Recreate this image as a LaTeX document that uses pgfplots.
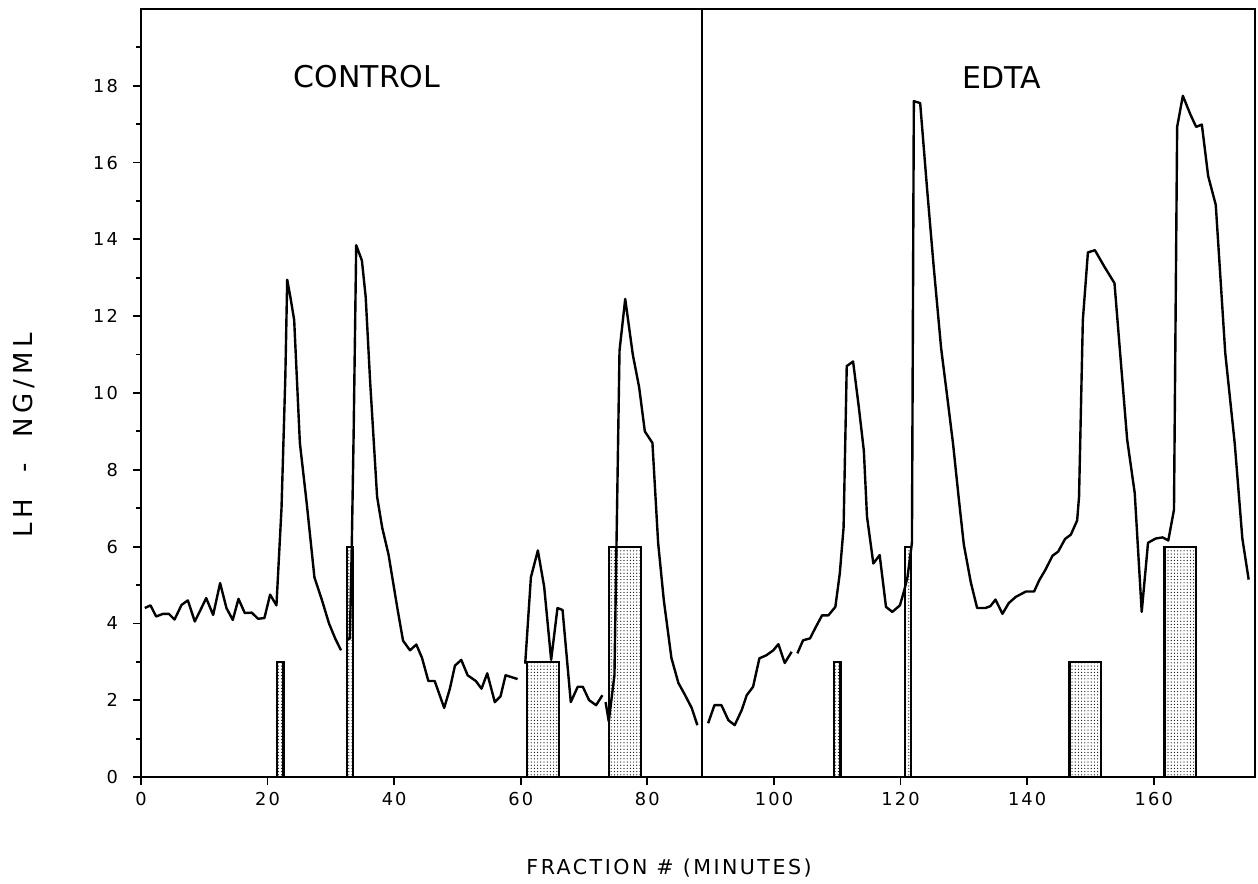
\documentclass[border=0pt]{standalone}
\usepackage{fontspec}
\setmainfont{DejaVu Sans}
\usepackage{pgfplots}
\pgfplotsset{compat=1.18}
\usetikzlibrary{patterns.meta}

\begin{document}
\begin{tikzpicture}
\begin{axis}[
  scale only axis,
  width=557pt, height=384pt,
  xmin=0, xmax=176, ymin=0, ymax=20,
  xtick={0,20,...,160},
  ytick={0,2,...,18},
  minor ytick={1,3,...,19},
  tick align=outside,
  tick pos=left,
  major tick length=4pt, minor tick length=2.5pt,
  axis line style={line width=1pt},
  every tick/.style={black, line width=0.9pt},
  tick label style={font={\fontsize{8.9}{10}\selectfont\addfontfeatures{LetterSpace=12}}},
  yticklabel style={xshift=-4pt},
  /pgf/number format/assume math mode=true,
  xlabel={FRACTION \# (MINUTES)},
  ylabel={LH~~-~~NG/ML},
  xlabel style={at={(axis description cs:0.474,0)}, anchor=center, yshift=-45.4pt,
    font={\fontsize{10.3}{12}\selectfont\addfontfeatures{LetterSpace=12}}},
  ylabel style={at={(axis description cs:-0.105,0.445)}, anchor=center,
    font={\fontsize{13}{15}\selectfont\addfontfeatures{LetterSpace=18}}},
  clip=false,
]
% stimulus bars
\addplot[draw=black, line width=1.1pt, pattern={Dots[distance=1.6pt,radius=0.3pt]}] coordinates {(21.5,0) (21.5,3) (22.5,3) (22.5,0)} -- cycle;
\addplot[draw=black, line width=1.1pt, pattern={Dots[distance=1.6pt,radius=0.3pt]}] coordinates {(32.5,0) (32.5,6) (33.5,6) (33.5,0)} -- cycle;
\addplot[draw=black, line width=1.1pt, pattern={Dots[distance=1.6pt,radius=0.3pt]}] coordinates {(61,0) (61,3) (66,3) (66,0)} -- cycle;
\addplot[draw=black, line width=1.1pt, pattern={Dots[distance=1.6pt,radius=0.3pt]}] coordinates {(74,0) (74,6) (79,6) (79,0)} -- cycle;
\addplot[draw=black, line width=1.1pt, pattern={Dots[distance=1.6pt,radius=0.3pt]}] coordinates {(109.5,0) (109.5,3) (110.5,3) (110.5,0)} -- cycle;
\addplot[draw=black, line width=1.1pt, pattern={Dots[distance=1.6pt,radius=0.3pt]}] coordinates {(120.7,0) (120.7,6) (121.7,6) (121.7,0)} -- cycle;
\addplot[draw=black, line width=1.1pt, pattern={Dots[distance=1.6pt,radius=0.3pt]}] coordinates {(146.7,0) (146.7,3) (151.7,3) (151.7,0)} -- cycle;
\addplot[draw=black, line width=1.1pt, pattern={Dots[distance=1.6pt,radius=0.3pt]}] coordinates {(161.7,0) (161.7,6) (166.7,6) (166.7,0)} -- cycle;
% divider
\addplot[black, line width=1pt] coordinates {(88.7,0) (88.7,20)};
% LH profile
\addplot[black, line width=1.2pt, line join=round, unbounded coords=jump] coordinates {
(0.6,4.4) (1.5,4.47) (2.4,4.18) (3.5,4.25) (4.4,4.25) (5.3,4.1) (6.4,4.48) (7.4,4.6)
(8.5,4.05) (9.4,4.35) (10.3,4.66) (11.4,4.22) (12.5,5.05) (13.5,4.4) (14.5,4.09)
(15.4,4.64) (16.4,4.27) (17.5,4.28) (18.5,4.12) (19.5,4.14) (20.4,4.75) (21.4,4.47)
(22.2,7.0) (22.8,10.4) (23.1,12.95) (23.6,12.5) (24.2,11.9) (25.1,8.7) (26.2,7.1)
(27.4,5.2) (28.6,4.6) (29.7,4.0) (30.7,3.6) (31.6,3.3)
(32,nan)
(32.5,3.6) (33.0,3.6) (33.3,6.0) (33.6,9.0) (34.0,13.85) (34.9,13.45) (35.5,12.5)
(36.2,10.3) (37.3,7.3) (38.1,6.5) (39.1,5.8) (40.5,4.4) (41.4,3.55) (42.5,3.3)
(43.5,3.45) (44.4,3.1) (45.4,2.5) (46.4,2.5) (47.9,1.8) (48.8,2.3) (49.6,2.9)
(50.6,3.05) (51.6,2.65) (52.9,2.5) (53.8,2.3) (54.7,2.7) (55.9,1.95) (56.8,2.1)
(57.6,2.65) (59.5,2.55)
(60,nan)
(60.7,2.95) (61.6,5.2) (62.7,5.9) (63.7,4.95) (64.8,3.05) (65.8,4.4) (66.6,4.35)
(67.9,1.95) (69.0,2.35) (69.8,2.35) (70.8,2.0) (71.9,1.87) (72.9,2.13)
(73.1,nan)
(73.4,1.95) (73.9,1.45) (74.8,2.65) (75.6,11.1) (76.5,12.45) (77.7,11.0) (78.7,10.15)
(79.6,9.0) (80.8,8.7) (81.7,6.1) (82.6,4.6) (83.8,3.1) (84.9,2.45) (85.9,2.15)
(87.0,1.8) (87.9,1.35)
(88.7,nan)
(89.6,1.4) (90.6,1.87) (91.7,1.87) (92.8,1.48) (93.8,1.35) (94.9,1.74) (95.7,2.13)
(96.7,2.35) (97.7,3.09) (98.8,3.17) (99.9,3.3) (100.7,3.46) (101.7,2.97) (102.8,3.26)
(103.2,nan)
(103.7,3.22) (104.6,3.56) (105.7,3.61) (106.5,3.87) (107.6,4.21) (108.6,4.21)
(109.7,4.43) (110.4,5.3) (111.0,6.5) (111.5,10.7) (112.5,10.82) (113.4,9.64)
(114.2,8.5) (114.7,6.78) (115.7,5.56) (116.7,5.78) (117.7,4.43) (118.7,4.3)
(119.9,4.47) (120.6,4.87) (121.1,5.21) (121.8,6.1) (122.1,17.6) (123.1,17.55)
(124.2,15.3) (125.2,13.36) (126.4,11.18) (127.4,9.87) (128.3,8.67) (129.2,7.25)
(130.0,6.05) (131.1,5.07) (132.1,4.4) (133.4,4.4) (134.2,4.45) (135.0,4.62)
(136.1,4.25) (137.1,4.53) (138.2,4.69) (139.8,4.83) (141.1,4.83) (141.9,5.12)
(142.9,5.4) (144.0,5.76) (144.9,5.87) (146.0,6.2) (146.9,6.31) (147.9,6.68)
(148.2,7.3) (148.8,11.9) (149.6,13.66) (150.7,13.72) (152.2,13.29) (153.8,12.86)
(154.8,10.82) (155.8,8.79) (157.0,7.39) (158.1,4.3) (159.1,6.1) (160.3,6.21)
(161.4,6.24) (162.3,6.16) (163.2,6.96) (163.7,16.93) (164.6,17.74) (165.8,17.25)
(166.7,16.93) (167.6,16.99) (168.6,15.65) (169.8,14.9) (171.3,11.04) (172.8,8.68)
(174.0,6.21) (175.0,5.14)
};
\node[font=\fontsize{15}{18}\selectfont] at (axis cs:35.7,18.24) {CONTROL};
\node[font=\fontsize{15}{18}\selectfont] at (axis cs:136.0,18.22) {EDTA};
\end{axis}
\path (current axis.south west) ++(-70.5pt,-52pt);
\path (current axis.north east) ++(1.5pt,4.5pt);
\end{tikzpicture}
\end{document}
